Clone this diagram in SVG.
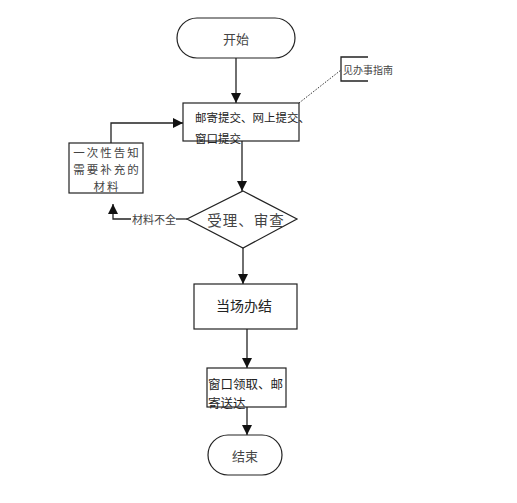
<svg xmlns="http://www.w3.org/2000/svg" width="517" height="503" viewBox="0 0 517 503">
<style>
.s{fill:#fff;stroke:#222;stroke-width:1.2}
.l{fill:none;stroke:#222;stroke-width:1.3}
.t{font-family:"Noto Sans CJK SC","Noto Sans",sans-serif;fill:#222}
.g{fill:#444}
.c{text-anchor:middle;dominant-baseline:central}
</style>
<defs>
<marker id="a" viewBox="0 0 10 10" refX="10" refY="5" markerWidth="10" markerHeight="10" markerUnits="userSpaceOnUse" orient="auto">
<path d="M0,0 L10,5 L0,10 Z" fill="#111"/>
</marker>
</defs>
<rect width="517" height="503" fill="#fff"/>
<g id="connectors">
<line class="l" x1="236" y1="58" x2="236" y2="103" marker-end="url(#a)"/>
<line class="l" x1="242" y1="141" x2="242" y2="191" marker-end="url(#a)"/>
<polyline class="l" points="111,143 111,123 183,123" marker-end="url(#a)"/>
<line class="l" x1="187" y1="219" x2="176" y2="219"/>
<polyline class="l" points="131,219 113,219 113,204" marker-end="url(#a)"/>
<line class="l" x1="243" y1="248" x2="243" y2="284" marker-end="url(#a)"/>
<line class="l" x1="247" y1="329" x2="247" y2="368" marker-end="url(#a)"/>
<line class="l" x1="247" y1="400" x2="247" y2="435" marker-end="url(#a)"/>
<line x1="299" y1="103" x2="341" y2="70" stroke="#333" stroke-width="1" stroke-dasharray="1.5,1.5"/>
<text class="t g" x="132" y="219" font-size="11" dominant-baseline="central">材料不全</text>
</g>
<g id="start">
<rect class="s" x="177" y="18" width="118" height="40" rx="20"/>
<text class="t c g" x="236" y="38" font-size="13">开始</text>
</g>
<g id="submit">
<rect class="s" x="183" y="103" width="116" height="38"/>
<text class="t" x="195" y="117" font-size="11.5" dominant-baseline="central">邮寄提交、网上提交、</text>
<text class="t" x="195" y="138" font-size="11.5" dominant-baseline="central">窗口提交</text>
</g>
<g id="note">
<polyline class="l" points="368,57 341,57 341,81 368,81" stroke-width="1"/>
<text class="t g" x="343" y="69" font-size="10" dominant-baseline="central">见办事指南</text>
</g>
<g id="inform">
<rect class="s" x="69" y="143" width="74" height="50"/>
<text class="t c g" x="107" y="152" font-size="11.5" letter-spacing="2">一次性告知</text>
<text class="t c g" x="107" y="169" font-size="11.5" letter-spacing="2">需要补充的</text>
<text class="t c g" x="107" y="186" font-size="11.5" letter-spacing="2">材料</text>
</g>
<g id="review">
<polygon class="s" points="243,191 297,219 243,248 187,219"/>
<text class="t c g" x="246" y="219" font-size="14.5" letter-spacing="1">受理、审查</text>
</g>
<g id="onsite">
<rect class="s" x="194" y="284" width="103" height="45"/>
<text class="t c" x="244" y="305" font-size="14">当场办结</text>
</g>
<g id="deliver">
<rect class="s" x="207" y="368" width="79" height="39"/>
<text class="t" x="208" y="383" font-size="12.5" dominant-baseline="central">窗口领取、邮</text>
<text class="t" x="208" y="402" font-size="12.5" dominant-baseline="central">寄送达</text>
</g>
<g id="end">
<rect class="s" x="208" y="435" width="74" height="40" rx="20"/>
<text class="t c g" x="245" y="455" font-size="13">结束</text>
</g>
</svg>
